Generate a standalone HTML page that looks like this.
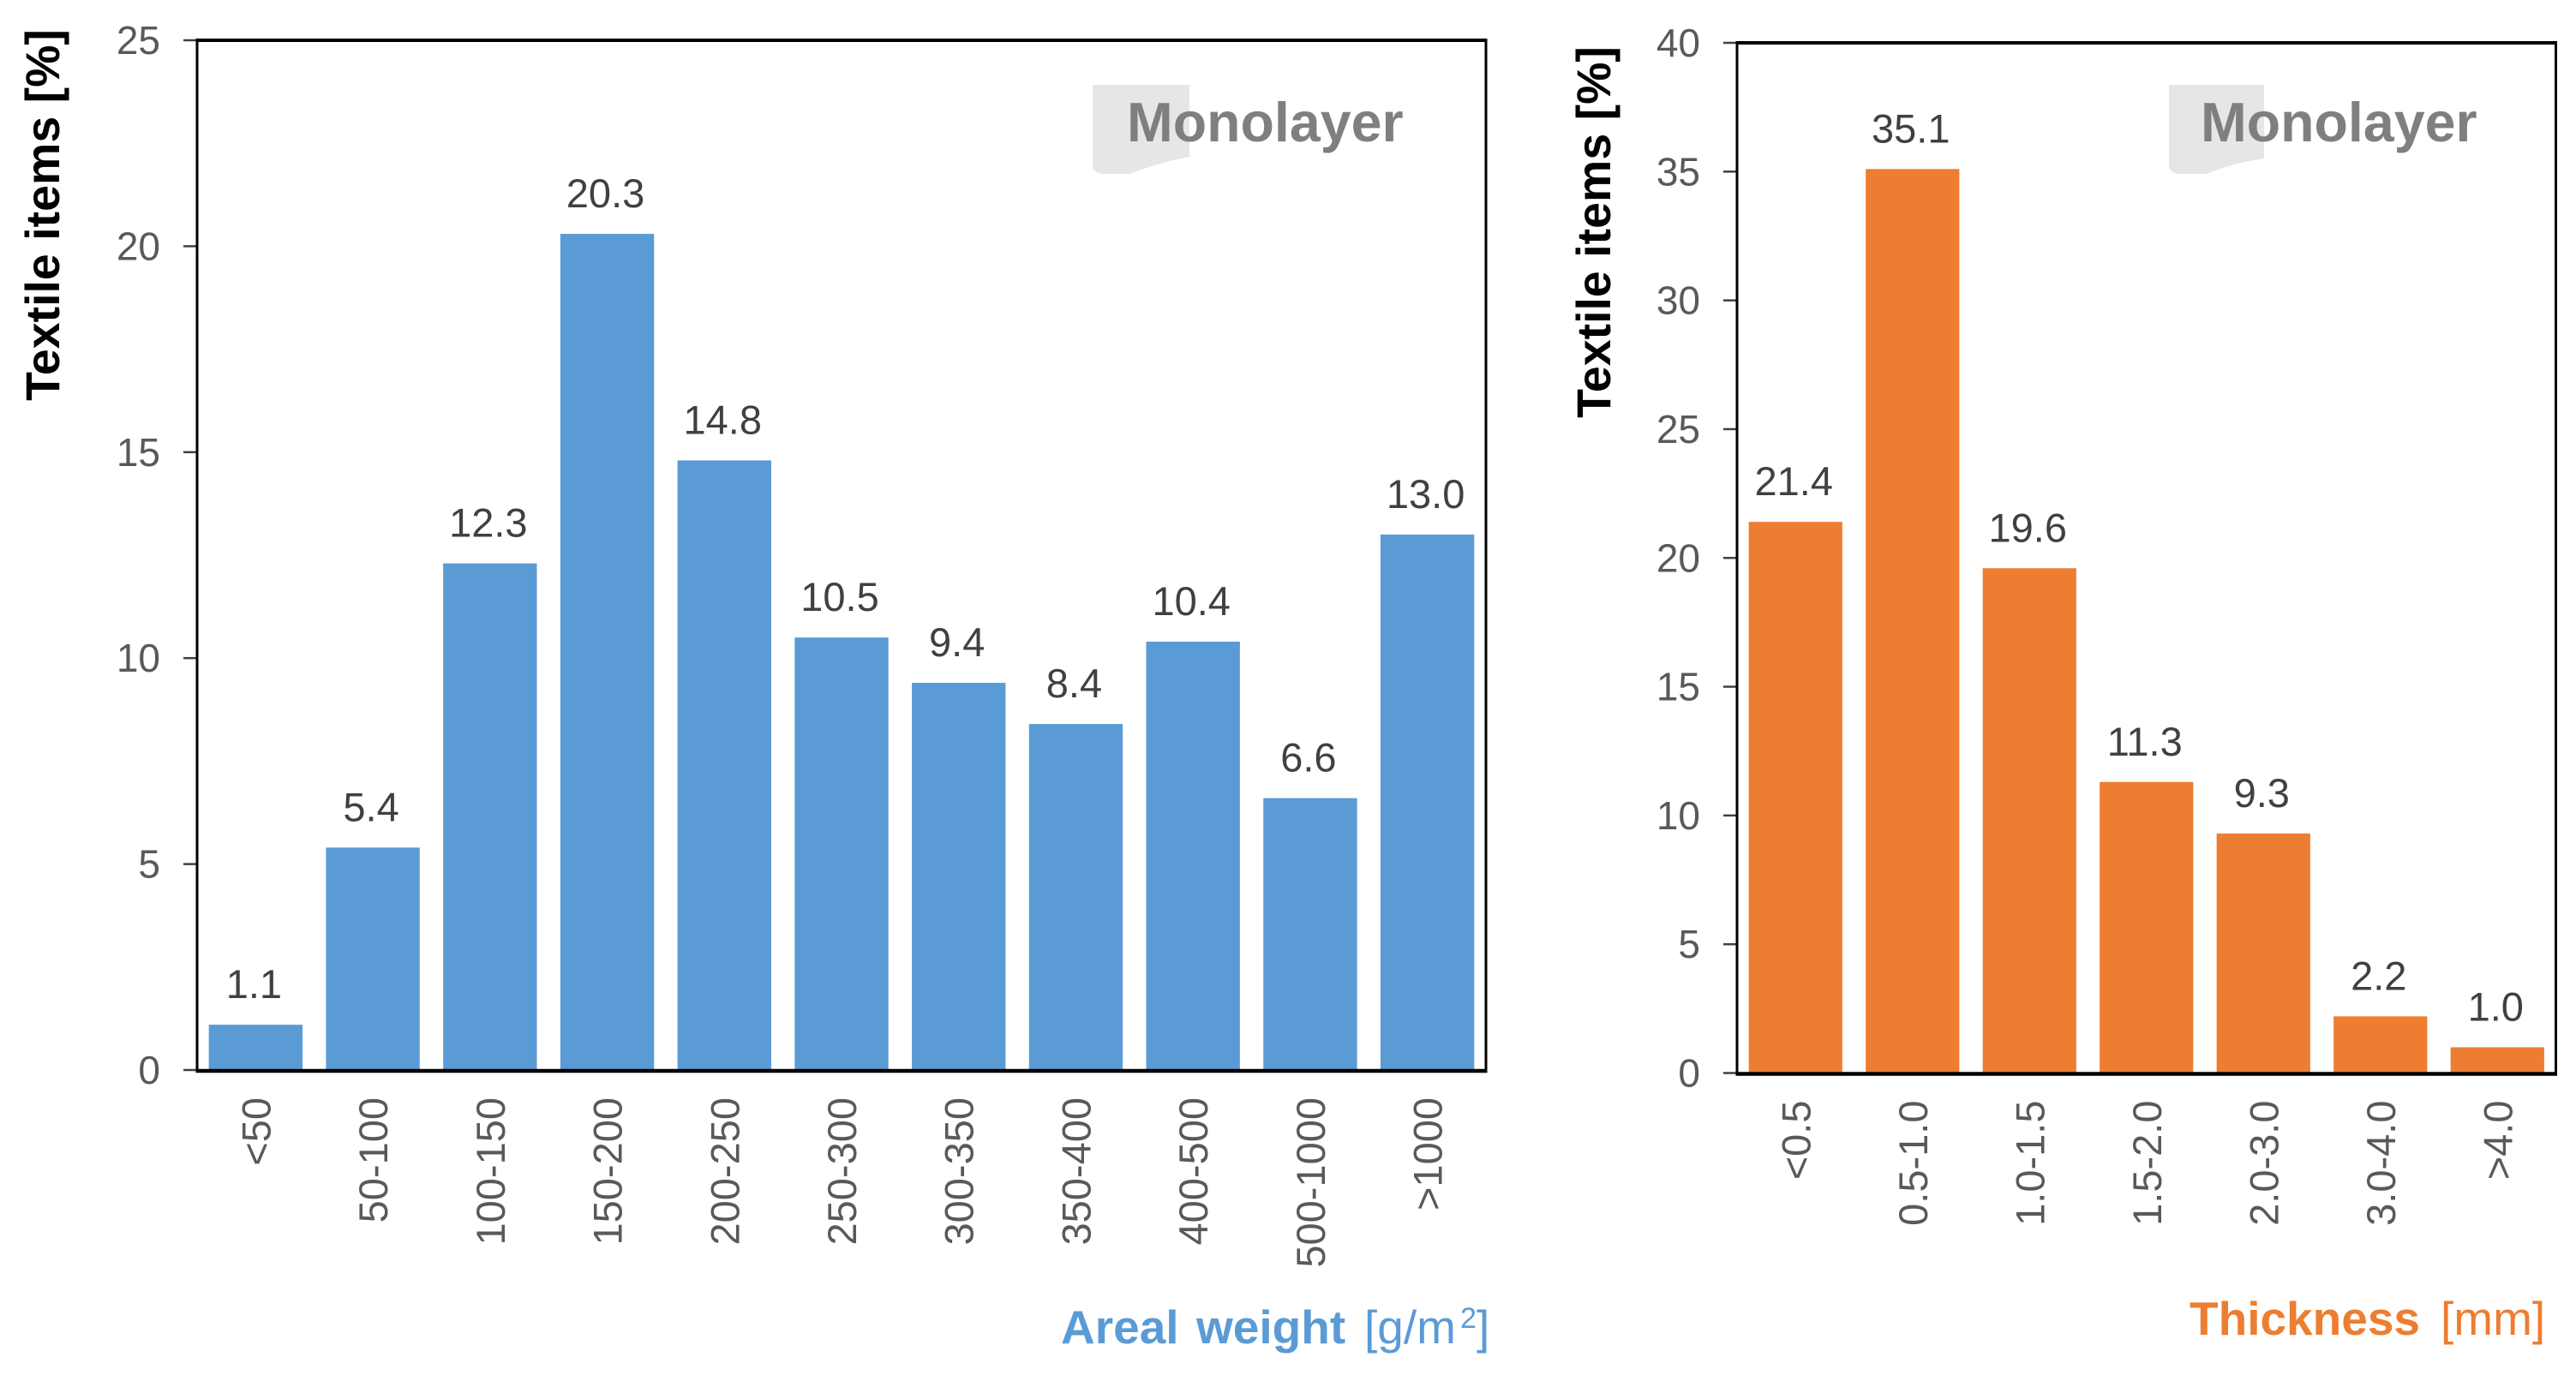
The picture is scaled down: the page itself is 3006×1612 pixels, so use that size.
<!DOCTYPE html>
<html lang="en">
<head>
<meta charset="utf-8">
<title>Monolayer textile items by areal weight and thickness</title>
<style>
html,body{margin:0;padding:0;background:#fff;}
body{width:3006px;height:1612px;overflow:hidden;}
svg{display:block;font-family:"Liberation Sans",Arial,sans-serif;}
</style>
</head>
<body>
<svg id="figure" xmlns="http://www.w3.org/2000/svg" width="3006" height="1612" viewBox="0 0 3006 1612">
  <rect x="0" y="0" width="3006" height="1612" fill="#ffffff"/>

  <g id="chart-weight">
    <path d="M1275 99H1388V183C1360 188 1340 195 1318 203H1288C1281 203 1275 199 1275 195Z" fill="#e7e6e6"/>
    <text x="1315" y="165" font-size="64.5" font-weight="700" fill="#7f7f7f">Monolayer</text>
    <text transform="translate(69 251) rotate(-90)" text-anchor="middle" font-size="55.5" font-weight="700" fill="#000000">Textile items [%]</text>
    <text y="1568" font-size="55" fill="#5b9bd5"><tspan x="1238" font-weight="700">Areal</tspan><tspan x="1396" font-weight="700">weight</tspan><tspan x="1592">[g/m</tspan><tspan x="1704" y="1550" font-size="34">2</tspan><tspan x="1723" y="1568">]</tspan></text>
  </g>

  <g id="chart-thickness">
    <path d="M2531 99H2642V185C2615 189 2595 195 2574 203H2544C2537 203 2531 199 2531 195Z" fill="#e7e6e6"/>
    <text x="2568" y="165" font-size="64.5" font-weight="700" fill="#7f7f7f">Monolayer</text>
    <text transform="translate(1879 271) rotate(-90)" text-anchor="middle" font-size="55.5" font-weight="700" fill="#000000">Textile items [%]</text>
    <text y="1558" font-size="55" fill="#ed7d31"><tspan x="2555" font-weight="700">Thickness</tspan><tspan x="2848">[mm]</tspan></text>
  </g>
</svg>

<script>
const weightCategories = ['<50','50-100','100-150','150-200','200-250','250-300','300-350','350-400','400-500','500-1000','>1000'];
const weightValues = [1.1,5.4,12.3,20.3,14.8,10.5,9.4,8.4,10.4,6.6,13.0];
const weightTicks = [0,5,10,15,20,25];

const thicknessCategories = ['<0.5','0.5-1.0','1.0-1.5','1.5-2.0','2.0-3.0','3.0-4.0','>4.0'];
const thicknessValues = [21.4,35.1,19.6,11.3,9.3,2.2,1.0];
const thicknessTicks = [0,5,10,15,20,25,30,35,40];

const SVG_NS = 'http://www.w3.org/2000/svg';

function make(tag, parent, attrs, text) {
  const node = document.createElementNS(SVG_NS, tag);
  for (const key in attrs) node.setAttribute(key, attrs[key]);
  if (text !== undefined) node.textContent = text;
  parent.appendChild(node);
  return node;
}

function drawChart(opts) {
  const group = document.getElementById(opts.groupId);
  const maxY = opts.ticks[opts.ticks.length - 1];
  const yScale = v => opts.bottom - (v / maxY) * (opts.bottom - opts.top);
  const pitch = (opts.right - opts.left) / opts.categories.length;
  const xScale = i => opts.left + pitch * (i + 0.5);
  const barWidth = pitch * 0.8;

  opts.values.forEach((v, i) => {
    const bar = make('rect', group, {
      x: xScale(i) - barWidth / 2,
      y: yScale(v),
      width: barWidth,
      height: opts.bottom - yScale(v),
      fill: opts.color
    });
    
    

    const valueLabel = make('text', group, {
      x: xScale(i) - 2,
      y: yScale(v) - 31,
      'text-anchor': 'middle',
      'font-size': 47,
      fill: '#404040'
    }, v.toFixed(1));
    
    

    const catLabel = make('text', group, {
      transform: 'translate(' + (xScale(i) + 17) + ' ' + (opts.bottom + 32) + ') rotate(-90)',
      'text-anchor': 'end',
      'font-size': 47,
      fill: '#595959'
    }, opts.categories[i]);
    
    
  });

  opts.ticks.forEach(t => {
    const tick = make('line', group, {
      x1: opts.left - 16,
      x2: opts.left,
      y1: yScale(t),
      y2: yScale(t),
      stroke: '#404040',
      'stroke-width': 2.5
    });
    
    

    const tickLabel = make('text', group, {
      x: opts.left - 43,
      y: yScale(t) + 16,
      'text-anchor': 'end',
      'font-size': 46,
      fill: '#595959'
    }, String(t));
    
    
  });

  const frameTop = make('line', group, {x1: opts.left - 1.5, x2: opts.right + 1.5, y1: opts.top, y2: opts.top, stroke: '#000', 'stroke-width': 4});
  
  

  const frameLeft = make('line', group, {x1: opts.left, x2: opts.left, y1: opts.top, y2: opts.bottom, stroke: '#000', 'stroke-width': 3});
  
  

  const frameRight = make('line', group, {x1: opts.right, x2: opts.right, y1: opts.top, y2: opts.bottom, stroke: '#000', 'stroke-width': 3});
  
  

  const frameBottom = make('line', group, {x1: opts.left - 1.5, x2: opts.right + 1.5, y1: opts.bottom + 1, y2: opts.bottom + 1, stroke: '#000', 'stroke-width': 4.5});
  
  
}

drawChart({
  groupId: 'chart-weight',
  categories: weightCategories,
  values: weightValues,
  ticks: weightTicks,
  color: '#5b9bd5',
  left: 230, right: 1734, top: 47, bottom: 1249
});

drawChart({
  groupId: 'chart-thickness',
  categories: thicknessCategories,
  values: thicknessValues,
  ticks: thicknessTicks,
  color: '#ed7d31',
  left: 2027, right: 2982.5, top: 50, bottom: 1252.5
});
</script>
</body>
</html>
